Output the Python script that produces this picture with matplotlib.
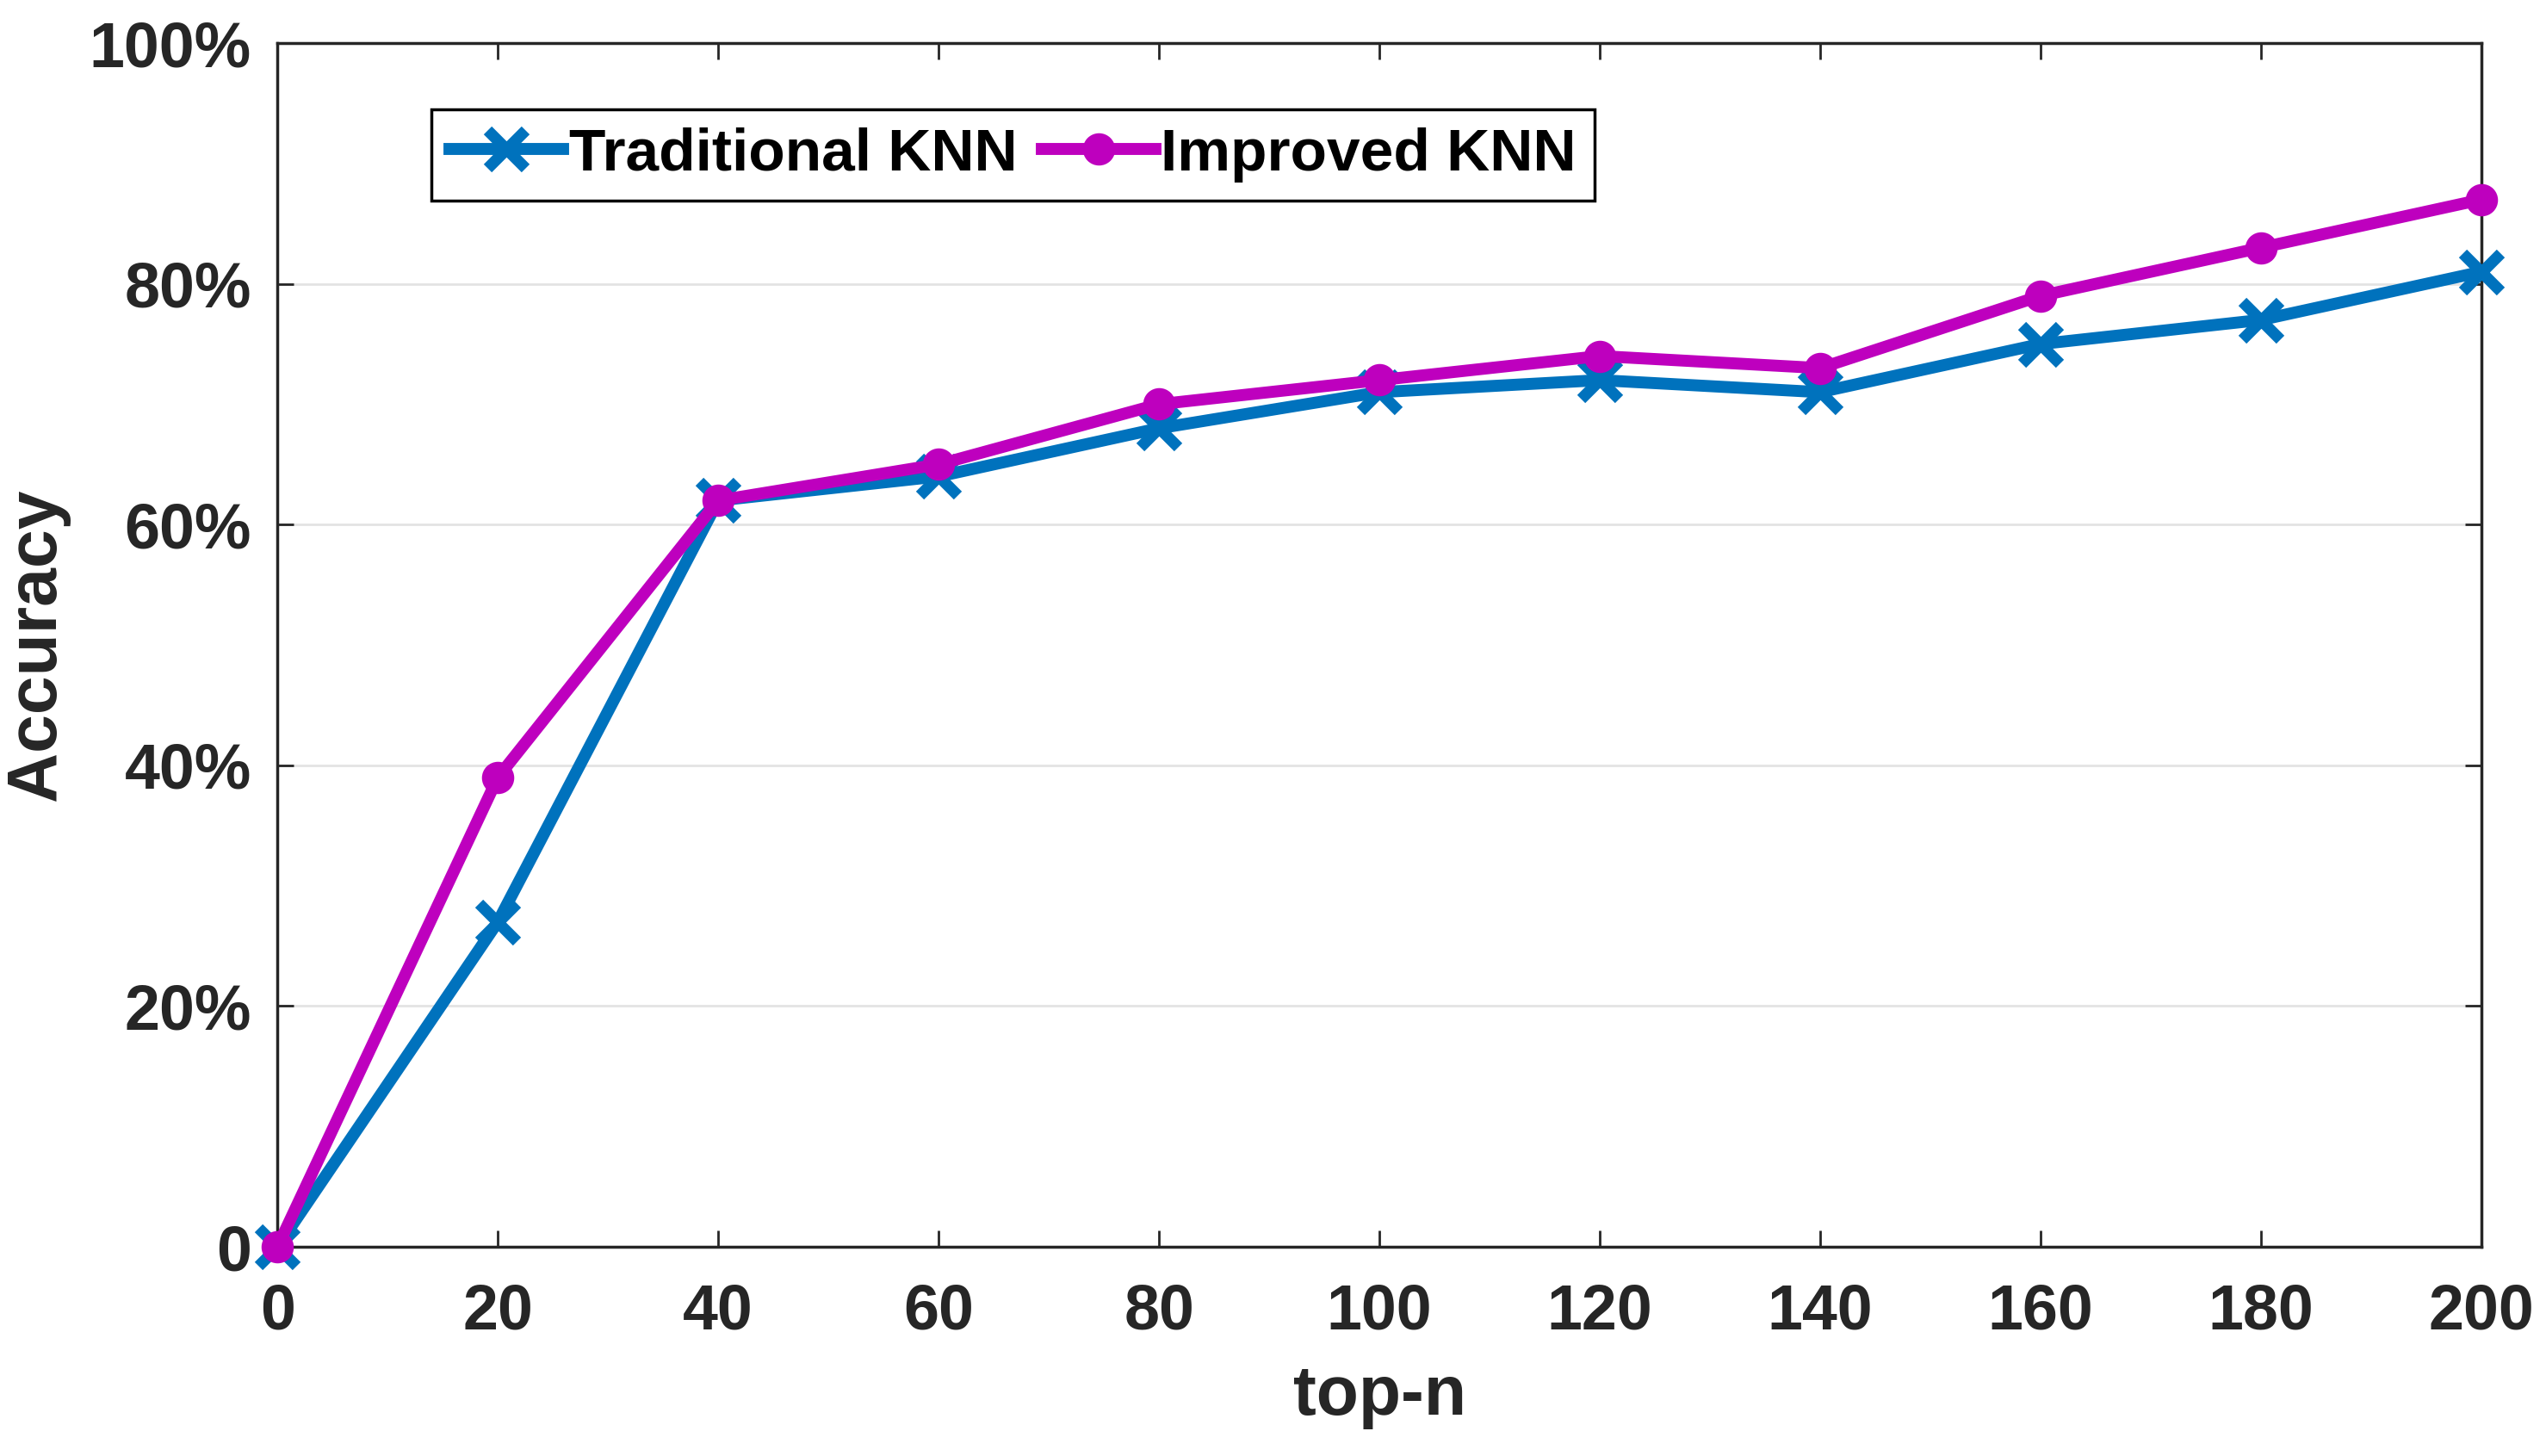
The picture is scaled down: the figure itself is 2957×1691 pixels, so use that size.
import numpy as np
import matplotlib
matplotlib.use("Agg")
from matplotlib import pyplot as plt
from matplotlib.ticker import FuncFormatter

top_n = [0, 20, 40, 60, 80, 100, 120, 140, 160, 180, 200]
traditional = [0, 27, 62, 64, 68, 71, 72, 71, 75, 77, 81]
improved = [0, 39, 62, 65, 70, 72, 74, 73, 79, 83, 87]
y_ticks = [0, 20, 40, 60, 80, 100]

plt.rcParams['font.family'] = ['Liberation Sans', 'DejaVu Sans']
plt.rcParams['font.weight'] = 'bold'
dark = '#262626'

fig = plt.figure(figsize=(29.57, 16.91), dpi=100)
ax = fig.add_axes([0.109, 0.1437, 0.8656, 0.8267])

ax.plot(top_n, traditional, color='#0072BD', lw=10, marker='x', ms=32, mew=9.5,
        label='Traditional KNN', zorder=3, clip_on=False)
ax.plot(top_n, improved, color='#BE00BE', lw=10, marker='o', ms=17, mew=10,
        label='Improved KNN', zorder=4, clip_on=False)

ax.set_xlim(0, 200)
ax.set_ylim(0, 100)
ax.set_xticks(top_n)
ax.set_yticks(y_ticks)
ax.yaxis.set_major_formatter(FuncFormatter(lambda v, p: '0' if v == 0 else '%d%%' % v))
ax.grid(axis='y', color='#E3E3E3', lw=2)
ax.set_axisbelow(True)

ax.tick_params(direction='in', length=14, width=2, colors=dark, labelsize=53,
               top=True, right=True)
ax.tick_params(axis='x', pad=30)
ax.tick_params(axis='y', pad=22)
for s in ax.spines.values():
    s.set_color(dark)
    s.set_linewidth(2.5)

ax.set_xlabel('top-n', fontsize=58, fontweight='bold', color=dark, labelpad=18)
ax.set_ylabel('Accuracy', fontsize=58, fontweight='bold', color=dark, labelpad=16)

leg = ax.legend(loc='upper left', bbox_to_anchor=(0.07, 0.945), ncol=2, fontsize=50,
                frameon=True, fancybox=False, edgecolor='black', framealpha=1,
                handlelength=1.9, handletextpad=0.1, columnspacing=0.4,
                borderpad=0.3, borderaxespad=0)
leg.get_frame().set_linewidth(2.5)

fig.savefig('out.png', dpi=100, facecolor='white')
